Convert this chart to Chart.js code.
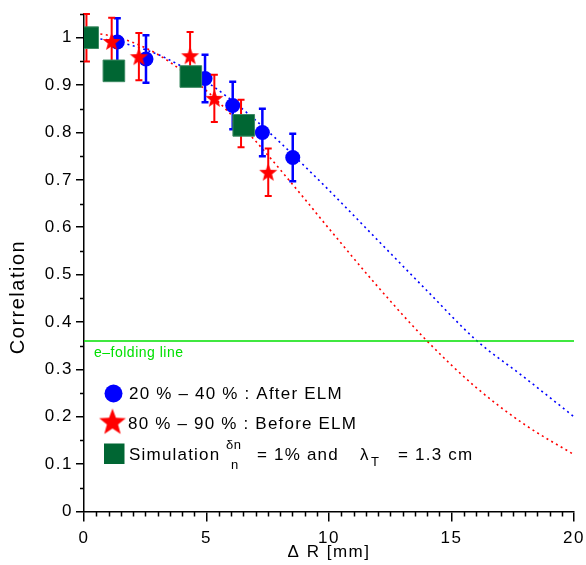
<!DOCTYPE html>
<html>
<head>
<meta charset="utf-8">
<script src="https://cdn.jsdelivr.net/npm/chart.js@4.4.0/dist/chart.umd.min.js"></script>
<style>
  html, body { margin: 0; padding: 0; background: #fff; }
  #wrap { width: 586px; height: 565px; position: relative; }
</style>
</head>
<body>
<div id="wrap"><canvas id="corr"></canvas></div>
<script>
'use strict';

// 20 % - 40 % window, after the ELM
const afterX   = [1.36, 2.53, 4.94, 6.07, 7.28, 8.52];
const afterY   = [0.991, 0.955, 0.914, 0.857, 0.800, 0.747];
const afterErr = [0.05, 0.05, 0.05, 0.05, 0.05, 0.05];

// 80 % - 90 % window, before the ELM
const beforeX   = [0.10, 1.13, 2.24, 4.33, 5.32, 6.41, 7.52];
const beforeY   = [1.000, 0.992, 0.960, 0.962, 0.872, 0.819, 0.716];
const beforeErr = [0.05, 0.05, 0.05, 0.05, 0.05, 0.05, 0.05];

// simulation, dn/n = 1 %, lambda_T = 1.3 cm
const simX = [0.15, 1.22, 4.36, 6.52];
const simY = [1.000, 0.930, 0.918, 0.815];

// fitted decay curves (dotted)
const fitX      = [0, 1, 2, 3, 4, 5, 6, 7, 8, 9, 10, 12, 14, 16, 18, 20];
const fitAfter  = [1.000, 0.995, 0.983, 0.965, 0.939, 0.907, 0.869, 0.826, 0.779, 0.729, 0.678, 0.572, 0.466, 0.362, 0.282, 0.200];
const fitBefore = [1.012, 1.005, 0.990, 0.965, 0.930, 0.888, 0.838, 0.782, 0.722, 0.660, 0.597, 0.474, 0.360, 0.262, 0.183, 0.120];

// 1/e reference
const efoldX = [0, 20];
const efoldLevel = 0.36;

const xTickLabels = ['0', '5', '10', '15', '20'];
const yTickLabels = ['0', '0.1', '0.2', '0.3', '0.4', '0.5', '0.6', '0.7', '0.8', '0.9', '1'];

const FAMILY = '"Liberation Sans", Arial, Helvetica, sans-serif';
const BLUE  = '#0000ff';
const RED   = '#ff0000';
const GREEN = '#006633';
const LIME  = '#00e000';

const pts = (xs, ys) => xs.map((x, i) => ({ x, y: ys[i] }));

// filled five-point star, used as a point style
function starCanvas(r, color) {
  const c = document.createElement('canvas');
  const s = Math.ceil(r * 2 + 2);
  c.width = s; c.height = s;
  const g = c.getContext('2d');
  g.fillStyle = color;
  g.beginPath();
  for (let k = 0; k < 10; k++) {
    const rr = k % 2 ? r * 0.42 : r;
    const a  = -Math.PI / 2 + k * Math.PI / 5;
    g.lineTo(s / 2 + rr * Math.cos(a), s / 2 + rr * Math.sin(a) + r * 0.08);
  }
  g.closePath();
  g.fill();
  return c;
}

const starSmall = starCanvas(9.5, RED);
const starBig   = starCanvas(14, RED);

// vertical error bars with caps, drawn just under their own markers
const errorBars = {
  id: 'errorBars',
  beforeDatasetDraw(chart, args) {
    const ds = chart.data.datasets[args.index];
    if (!ds.errors) return;
    const { ctx, scales: { x, y } } = chart;
    ctx.save();
    ctx.strokeStyle = ds.errColor;
    ctx.lineWidth   = ds.errWidth;
    ds.data.forEach((p, i) => {
      const px  = x.getPixelForValue(p.x);
      const top = y.getPixelForValue(p.y + ds.errors[i]);
      const bot = y.getPixelForValue(p.y - ds.errors[i]);
      ctx.beginPath();
      ctx.moveTo(px, top); ctx.lineTo(px, bot);
      ctx.moveTo(px - 3.5, top); ctx.lineTo(px + 3.5, top);
      ctx.moveTo(px - 3.5, bot); ctx.lineTo(px + 3.5, bot);
      ctx.stroke();
    });
    ctx.restore();
  },
};

// minor ticks, axis titles, legend and the e-folding label
const decorations = {
  id: 'decorations',
  beforeDraw(chart) {
    chart.ctx.letterSpacing = '1.5px';
  },
  afterDraw(chart) {
    const { ctx, scales: { x, y } } = chart;
    ctx.save();

    ctx.strokeStyle = '#000';
    ctx.lineWidth = 1.5;
    ctx.beginPath();
    for (let v = 0.5; v < 20; v += 0.5) {
      if (v % 5 === 0) continue;
      const px = Math.round(x.getPixelForValue(v)) + 0.5;
      ctx.moveTo(px, y.bottom); ctx.lineTo(px, y.bottom + 5);
    }
    for (let k = 1; k <= 21; k += 2) {
      const py = Math.round(y.getPixelForValue(k * 0.05)) + 0.5;
      ctx.moveTo(x.left, py); ctx.lineTo(x.left - 4, py);
    }
    ctx.stroke();

    ctx.fillStyle = '#000';
    ctx.letterSpacing = '1.5px';
    ctx.textBaseline = 'alphabetic';

    // axis titles
    ctx.font = `17px ${FAMILY}`;
    ctx.textAlign = 'center';
    ctx.fillText('Δ R [mm]', (x.left + x.right) / 2, 557);
    ctx.save();
    ctx.translate(24, 297);
    ctx.rotate(-Math.PI / 2);
    ctx.font = `20px ${FAMILY}`;
    ctx.fillText('Correlation', 0, 0);
    ctx.restore();

    // e-folding label
    ctx.textAlign = 'left';
    ctx.fillStyle = LIME;
    ctx.letterSpacing = '0.5px';
    ctx.font = `14px ${FAMILY}`;
    ctx.fillText('e–folding line', 94, 357);

    // legend
    ctx.letterSpacing = '1.2px';
    ctx.fillStyle = BLUE;
    ctx.beginPath();
    ctx.arc(113.5, 393.5, 9, 0, Math.PI * 2);
    ctx.fill();
    ctx.drawImage(starBig, 112.5 - starBig.width / 2, 421.5 - starBig.height / 2);
    ctx.fillStyle = GREEN;
    ctx.fillRect(104, 443.5, 20.5, 20.5);

    ctx.fillStyle = '#000';
    ctx.font = `17px ${FAMILY}`;
    ctx.fillText('20 % – 40 % : After ELM', 129, 399);
    ctx.fillText('80 % – 90 % : Before ELM', 128, 429);
    ctx.fillText('Simulation', 129, 460);
    ctx.fillText('= 1% and', 257, 460);
    ctx.fillText('λ', 360, 460);
    ctx.fillText('= 1.3 cm', 398, 460);
    ctx.font = `13px ${FAMILY}`;
    ctx.letterSpacing = '0.5px';
    ctx.fillText('δn', 226, 449);
    ctx.fillText('n', 231, 469);
    ctx.fillText('T', 371, 466);

    ctx.restore();
  },
};

const dotted = color => ({
  showLine: true,
  borderColor: color,
  borderWidth: 1.6,
  borderDash: [2, 3.5],
  pointRadius: 0,
  cubicInterpolationMode: 'monotone',
  fill: false,
});

new Chart(document.getElementById('corr'), {
  type: 'scatter',
  data: {
    datasets: [
      { ...dotted(BLUE), data: pts(fitX, fitAfter),  order: 9 },
      { ...dotted(RED),  data: pts(fitX, fitBefore), order: 8 },
      {
        data: pts(efoldX, efoldX.map(() => efoldLevel)),
        showLine: true, borderColor: LIME, borderWidth: 1.5, pointRadius: 0, order: 7,
      },
      {
        data: pts(afterX, afterY),
        errors: afterErr, errColor: BLUE, errWidth: 2.5,
        pointStyle: 'circle', pointRadius: 7.5,
        backgroundColor: BLUE, borderColor: BLUE, borderWidth: 0, order: 3,
      },
      {
        data: pts(beforeX, beforeY),
        errors: beforeErr, errColor: RED, errWidth: 2,
        pointStyle: starSmall, pointRadius: 9, order: 2,
      },
      {
        data: pts(simX, simY),
        pointStyle: 'rect', pointRadius: 15.3,
        backgroundColor: GREEN, borderColor: '#3d8a63', borderWidth: 1, order: 1,
      },
    ],
  },
  options: {
    responsive: true,
    maintainAspectRatio: false,
    animation: false,
    events: [],
    layout: { autoPadding: false, padding: { top: 14, right: 12, left: 0, bottom: 0 } },
    plugins: { legend: { display: false }, tooltip: { enabled: false } },
    scales: {
      x: {
        type: 'linear', min: 0, max: 20,
        afterFit: s => { s.height = 53.5; s.paddingLeft = 0; s.paddingRight = 0; },
        ticks: {
          stepSize: 5, color: '#000', padding: 7,
          font: { family: FAMILY, size: 17 },
          callback: (v, i) => xTickLabels[i],
        },
        grid: { drawOnChartArea: false, drawTicks: true, tickLength: 10, color: '#000', lineWidth: 1.5 },
        border: { color: '#000', width: 1.5 },
      },
      y: {
        type: 'linear', min: 0, max: 1.05,
        afterFit: s => { s.width = 84; s.paddingTop = 0; s.paddingBottom = 0; },
        ticks: {
          stepSize: 0.1, includeBounds: false, color: '#000', padding: 3,
          font: { family: FAMILY, size: 17 },
          callback: (v, i) => yTickLabels[i],
        },
        grid: { drawOnChartArea: false, drawTicks: true, tickLength: 8, color: '#000', lineWidth: 1.5 },
        border: { color: '#000', width: 1.5 },
      },
    },
  },
  plugins: [errorBars, decorations],
});
</script>
</body>
</html>
